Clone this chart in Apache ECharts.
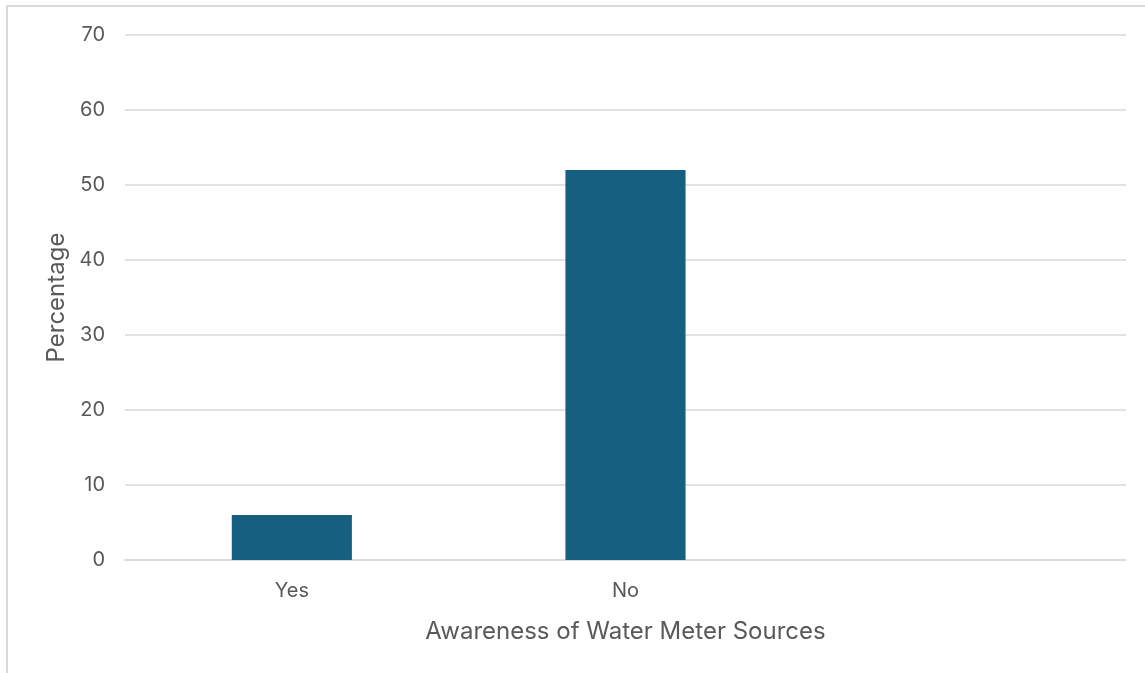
<!DOCTYPE html>
<html>
<head>
<meta charset="utf-8">
<title>Awareness of Water Meter Sources</title>
<script src="https://cdn.jsdelivr.net/npm/echarts@6/dist/echarts.min.js"></script>
<style>
  html, body { margin: 0; padding: 0; background: #ffffff; }
  #chart { width: 1145px; height: 673px; }
</style>
</head>
<body>
<div id="chart"></div>
<script>
// Survey answers and share of respondents (%)
const categories = ['Yes', 'No', ''];
const percentages = [6, 52, null];
const yTicks = { min: 0, max: 70, interval: 10 };

const textColor = '#595959';
const gridColor = '#d9d9d9';
const barColor = '#175f81';
const fontFamily = 'Inter, "Open Sans", sans-serif';

const chart = echarts.init(document.getElementById('chart'), null, { renderer: 'canvas' });

chart.setOption({
  animation: false,
  backgroundColor: '#ffffff',
  graphic: [{
    type: 'rect',
    shape: { x: 7, y: 6, width: 1200, height: 720 },
    style: { fill: 'none', stroke: '#d9d9d9', lineWidth: 2 },
    silent: true
  }],
  grid: { left: 125, right: 19, top: 35, bottom: 113, containLabel: false },
  xAxis: {
    type: 'category',
    data: categories,
    name: 'Awareness of Water Meter Sources',
    nameLocation: 'middle',
    nameGap: 60,
    nameTextStyle: { color: textColor, fontSize: 24, fontFamily: fontFamily },
    axisLine: { show: true, lineStyle: { color: gridColor, width: 1.5 } },
    axisTick: { show: false },
    axisLabel: { color: textColor, fontSize: 20, fontFamily: fontFamily, margin: 21 },
    splitLine: { show: false }
  },
  yAxis: {
    type: 'value',
    min: yTicks.min,
    max: yTicks.max,
    interval: yTicks.interval,
    name: 'Percentage',
    nameLocation: 'middle',
    nameGap: 55,
    nameTextStyle: { color: textColor, fontSize: 24, fontFamily: fontFamily },
    axisLine: { show: false },
    axisTick: { show: false },
    axisLabel: { color: textColor, fontSize: 20, fontFamily: fontFamily, margin: 20 },
    splitLine: { show: true, lineStyle: { color: gridColor, width: 1.5 } }
  },
  series: [{
    type: 'bar',
    data: percentages,
    barWidth: '36%',
    itemStyle: { color: barColor }
  }]
});
</script>
</body>
</html>
